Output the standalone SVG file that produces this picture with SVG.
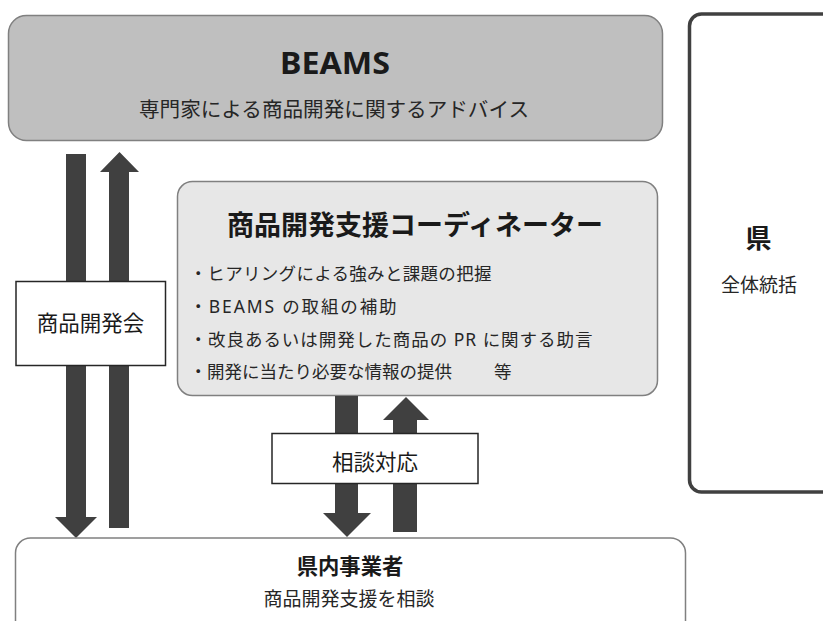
<svg xmlns="http://www.w3.org/2000/svg" width="823" height="621" viewBox="0 0 823 621">
  <style>
    text { font-family: "Noto Sans CJK JP", "Noto Sans", sans-serif; fill: #1a1a1a; }
    .latin { font-family: "Noto Sans", "Noto Sans CJK JP", sans-serif; }
    .title { font-weight: bold; text-anchor: middle; }
    .sub { text-anchor: middle; fill: #262626; }
    .bullet { font-size: 17.5px; fill: #262626; }
    .arrow { fill: #404040; stroke: none; }
    .label { fill: #ffffff; stroke: #262626; stroke-width: 1.5; }
  </style>
  <rect width="823" height="621" fill="#ffffff"/>

  <g id="beams">
    <rect x="8.5" y="15.5" width="654" height="125" rx="18" fill="#bfbfbf" stroke="#808080" stroke-width="1.5"/>
    <text class="title latin" x="335" y="73.5" font-size="30" textLength="110" lengthAdjust="spacingAndGlyphs">BEAMS</text>
    <text class="sub" x="334" y="117" font-size="20.6">専門家による商品開発に関するアドバイス</text>
  </g>

  <g id="ken">
    <rect x="689.5" y="14" width="160" height="478" rx="12" fill="#ffffff" stroke="#404040" stroke-width="3.5"/>
    <text class="title" x="758.5" y="248" font-size="26">県</text>
    <text class="sub" x="759" y="292" font-size="19">全体統括</text>
  </g>

  <g id="coordinator">
    <rect x="177.5" y="181.5" width="480" height="214" rx="15" fill="#e7e7e7" stroke="#808080" stroke-width="1.5"/>
    <text class="title" x="415" y="235" font-size="27">商品開発支援コーディネーター</text>
    <text class="bullet" x="189.5" y="280" textLength="302" lengthAdjust="spacing">・ヒアリングによる強みと課題の把握</text>
    <text class="bullet" x="189.5" y="313" textLength="207" lengthAdjust="spacing">・<tspan class="latin">BEAMS </tspan>の取組の補助</text>
    <text class="bullet" x="189.5" y="346" textLength="403" lengthAdjust="spacing">・改良あるいは開発した商品の<tspan class="latin"> PR </tspan>に関する助言</text>
    <text class="bullet" x="189.5" y="378">・開発に当たり必要な情報の提供<tspan x="494">等</tspan></text>
  </g>

  <g id="connectors">
    <polygon class="arrow" points="66,154 86,154 86,517 97,517 76,538 55,517 66,517"/>
    <polygon class="arrow" points="109,528 129,528 129,172 139,172 119.5,152 100,172 109,172"/>
    <polygon class="arrow" points="335,396 358,396 358,513 371,513 347,537 323,513 335,513"/>
    <polygon class="arrow" points="393,532 417,532 417,420 429,420 406,397 383,420 393,420"/>
  </g>

  <g id="label-kaihatsukai">
    <rect class="label" x="16" y="281.5" width="149.5" height="84"/>
    <text class="sub" x="90.5" y="331" font-size="21.5" style="fill:#1a1a1a">商品開発会</text>
  </g>

  <g id="label-soudan">
    <rect class="label" x="272" y="433.5" width="206" height="50"/>
    <text class="sub" x="375" y="470" font-size="21.5" style="fill:#1a1a1a">相談対応</text>
  </g>

  <g id="jigyousha">
    <rect x="15.5" y="538" width="670" height="110" rx="15" fill="#ffffff" stroke="#808080" stroke-width="1.5"/>
    <text class="title" x="350" y="574" font-size="21.3">県内事業者</text>
    <text class="sub" x="349" y="606" font-size="19">商品開発支援を相談</text>
  </g>
</svg>
